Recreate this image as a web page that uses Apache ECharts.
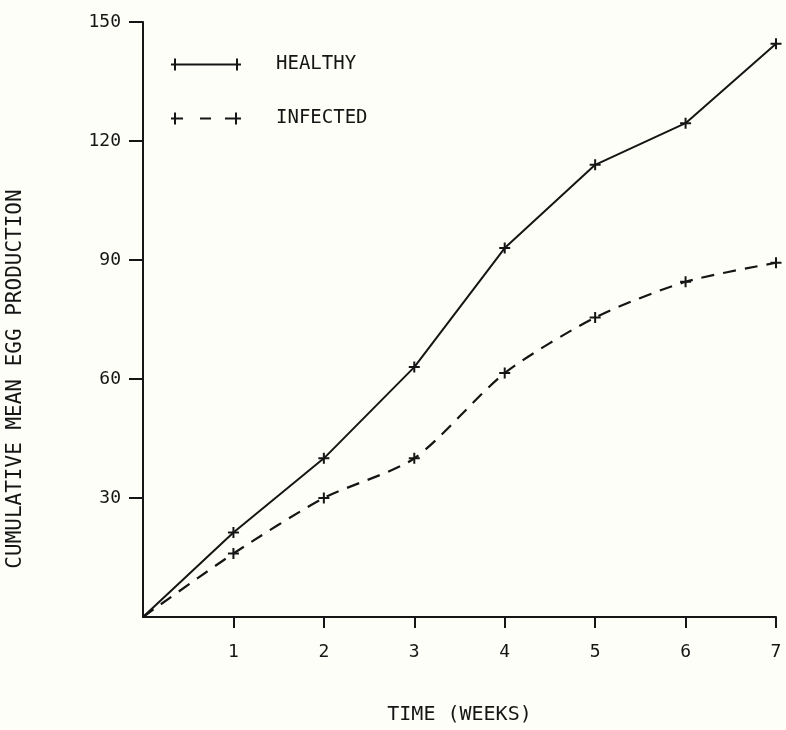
<!DOCTYPE html>
<html><head><meta charset="utf-8">
<script src="https://cdn.jsdelivr.net/npm/echarts@6/dist/echarts.min.js"></script>
<style>html,body{margin:0;padding:0;background:#fefef8;}#c{width:786px;height:730px;}</style>
</head><body><div id="c"></div>
<script>
const weeks = [0, 1, 2, 3, 4, 5, 6, 7];
const healthy = [0, 21.3, 40, 63, 93, 114, 124.5, 144.5];
const infected = [0, 16, 30, 40, 61.5, 75.5, 84.5, 89.3];
const xTicks = [1, 2, 3, 4, 5, 6, 7];
const yTicks = [30, 60, 90, 120, 150];
const seriesNames = ['HEALTHY', 'INFECTED'];
const xTitle = 'TIME (WEEKS)';
const yTitle = 'CUMULATIVE MEAN EGG PRODUCTION';

const FONT = 'DejaVu Sans Mono';
const INK = '#151515';
const plus = 'path://M4.5,0 h2 v11 h-2 Z M0,4.5 h11 v2 h-11 Z';
const iconSolid = 'path://M0,5 h70 v2 h-70 Z M3,0 h2 v12 h-2 Z M65,0 h2 v12 h-2 Z';
const iconDash = 'path://M0,5 h12 v2 h-12 Z M3,0 h2 v12 h-2 Z M29,5 h11 v2 h-11 Z M54,5 h16 v2 h-16 Z M64,0 h2 v12 h-2 Z';

function pts(vals) {
  return weeks.map((w, i) => ({ value: [w, vals[i]], symbolSize: i === 0 ? 0 : 11 }));
}

const chart = echarts.init(document.getElementById('c'), null, { renderer: 'canvas' });
chart.setOption({
  backgroundColor: '#fefef8',
  animation: false,
  grid: { left: 143, right: 10, top: 22, bottom: 106, containLabel: false },
  legend: {
    orient: 'vertical', left: 166, top: 50, itemGap: 35,
    itemWidth: 70, itemHeight: 12,
    textStyle: { fontFamily: FONT, fontSize: 19, color: INK, padding: [0, 0, 6, 30] },
    data: [
      { name: seriesNames[0], icon: iconSolid, itemStyle: { color: INK } },
      { name: seriesNames[1], icon: iconDash, itemStyle: { color: INK } }
    ]
  },
  xAxis: {
    type: 'value', min: 0, max: 7, interval: 1,
    name: xTitle, nameLocation: 'middle', nameGap: 88,
    nameTextStyle: { fontFamily: FONT, fontSize: 20, color: INK },
    axisLine: { lineStyle: { color: INK, width: 2 } },
    axisTick: { show: true, length: 11, lineStyle: { color: INK, width: 2 }, customValues: xTicks },
    axisLabel: { fontFamily: FONT, fontSize: 18, color: INK, margin: 26, customValues: xTicks },
    splitLine: { show: false }
  },
  yAxis: {
    type: 'value', min: 0, max: 150, interval: 30,
    axisLine: { show: true, lineStyle: { color: INK, width: 2 } },
    axisTick: { show: true, length: 14, lineStyle: { color: INK, width: 2 }, customValues: yTicks },
    axisLabel: { fontFamily: FONT, fontSize: 18, color: INK, margin: 22, customValues: yTicks },
    splitLine: { show: false }
  },
  graphic: [{
    type: 'text', rotation: Math.PI / 2,
    x: 16, y: 379,
    style: { text: yTitle, font: '21px "DejaVu Sans Mono"', fill: INK, align: 'center', verticalAlign: 'middle' }
  }],
  series: [
    {
      name: seriesNames[0], type: 'line', data: pts(healthy),
      symbol: plus, color: INK,
      lineStyle: { color: INK, width: 2 },
      itemStyle: { color: INK }
    },
    {
      name: seriesNames[1], type: 'line', data: pts(infected), smooth: 0.25,
      symbol: plus, color: INK,
      lineStyle: { color: INK, width: 2.2, type: [13, 9] },
      itemStyle: { color: INK }
    }
  ]
});
</script></body></html>
